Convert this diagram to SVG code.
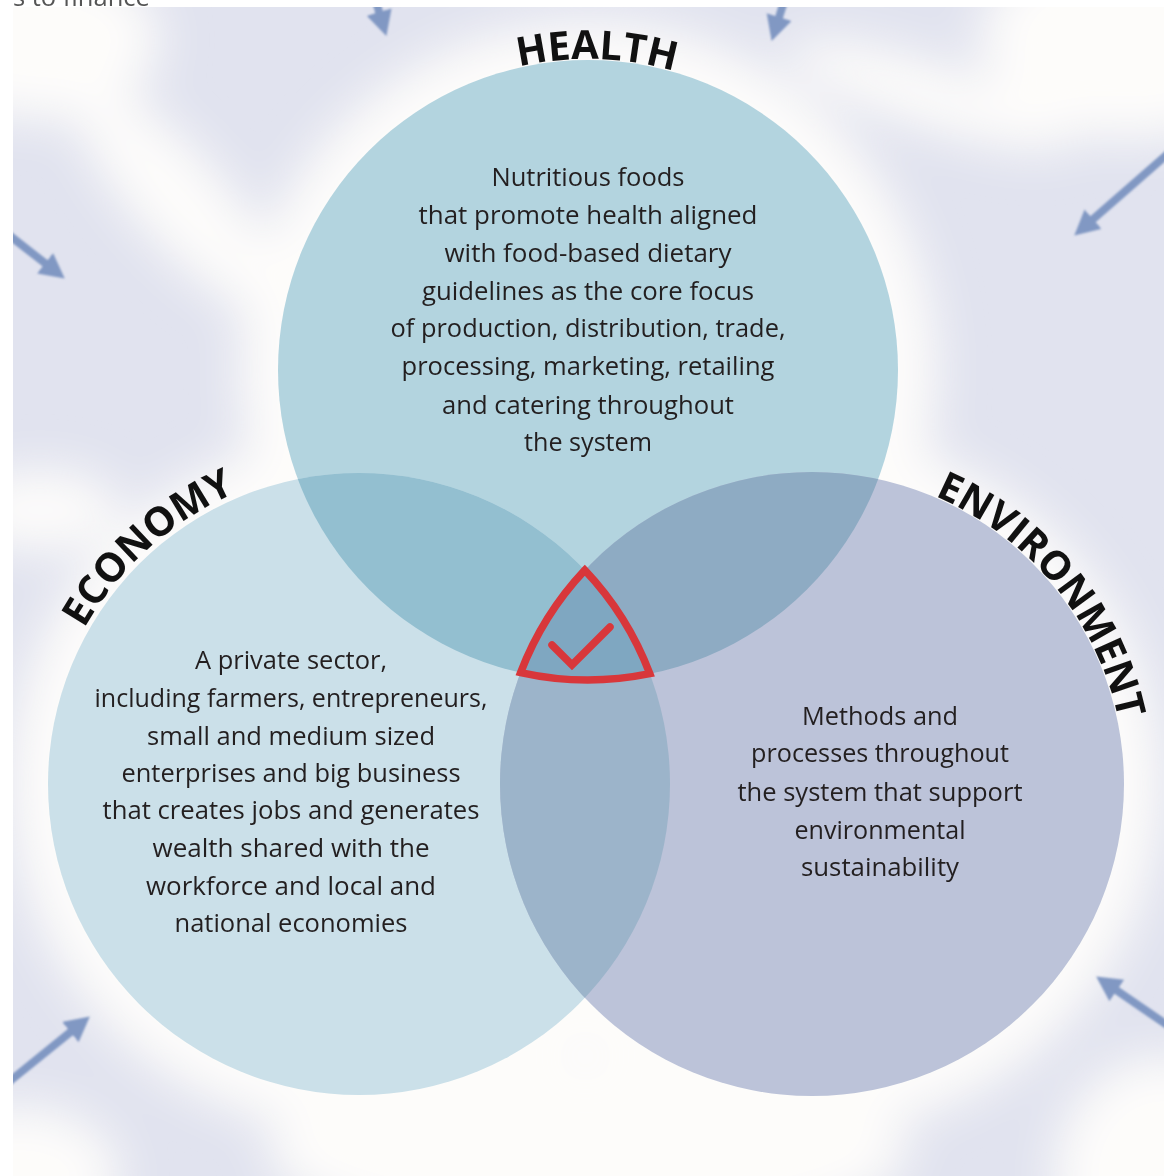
<svg xmlns="http://www.w3.org/2000/svg" width="1164" height="1176" viewBox="0 0 1164 1176">
  <style>
    .body { font-family: "Open Sans", "Noto Sans", "Liberation Sans", sans-serif; font-size: 25.5px; fill: #231f20; text-anchor: middle; }
    .label { font-family: "Open Sans", "Noto Sans", "Liberation Sans", sans-serif; font-weight: 700; font-size: 40px; fill: #111; }
    .arrow { fill: none; stroke: #8198c3; stroke-width: 8; marker-end: url(#head); }
    .core { fill: none; stroke: #d8373b; stroke-width: 7.5; stroke-linejoin: miter; stroke-linecap: round; }
  </style>
  <defs>
    <filter id="haze" x="-20%" y="-20%" width="140%" height="140%">
      <feGaussianBlur stdDeviation="24"/>
    </filter>
    <filter id="soft" x="-20%" y="-20%" width="140%" height="140%">
      <feGaussianBlur stdDeviation="0.8"/>
    </filter>
    <marker id="head" markerUnits="userSpaceOnUse" markerWidth="30" markerHeight="30" refX="4" refY="13" orient="auto">
      <path d="M0 0 L25 13 L0 26 Z" fill="#8198c3"/>
    </marker>
    <clipPath id="clipEconomy"><circle cx="359" cy="784" r="311"/></clipPath>
    <clipPath id="clipEnvironment"><circle cx="812" cy="784" r="312"/></clipPath>
    <clipPath id="clipPage"><rect x="13" y="7" width="1151" height="1169"/></clipPath>
    <!-- baselines for the curved headings -->
    <path id="arcHealth" d="M323.1 207 A311 311 0 0 1 861.6 222.1"/>
    <path id="arcEconomy" d="M52 860 A318 318 0 0 1 469 486"/>
    <path id="arcEnvironment" d="M760.9 475.2 A313 313 0 0 1 1105 894.1"/>
  </defs>

  <!-- page and soft halo backdrop -->
  <rect width="1164" height="1176" fill="#ffffff"/>
  <g clip-path="url(#clipPage)">
    <rect x="13" y="7" width="1151" height="1169" fill="#e1e3ef"/>
    <g filter="url(#haze)" fill="#fdfcfa">
      <circle cx="588" cy="370" r="348"/>
      <circle cx="359" cy="784" r="348"/>
      <circle cx="812" cy="784" r="348"/>
      <ellipse cx="588" cy="1150" rx="320" ry="90"/>
      <ellipse cx="40" cy="40" rx="120" ry="80"/>
      <ellipse cx="180" cy="200" rx="150" ry="45" transform="rotate(48 180 200)"/>
      <ellipse cx="1130" cy="40" rx="150" ry="100"/>
      <ellipse cx="930" cy="95" rx="150" ry="32" transform="rotate(18 930 95)"/>
      <ellipse cx="1164" cy="1176" rx="110" ry="120"/>
      <ellipse cx="20" cy="1176" rx="100" ry="70"/>
      <ellipse cx="40" cy="510" rx="80" ry="40"/>
    </g>
  </g>

  <!-- inward pointing arrows -->
  <g id="connectors" filter="url(#soft)">
    <path class="arrow" d="M374 -5 L380.3 15.9"/>
    <path class="arrow" d="M786 -5 L777.9 20.9"/>
    <path class="arrow" d="M5 232 L48.2 265.7"/>
    <path class="arrow" d="M1170 152 L1090.1 221.8"/>
    <path class="arrow" d="M5 1085 L73.5 1029.6"/>
    <path class="arrow" d="M1170 1027 L1113.5 988.3"/>
  </g>

  <!-- page margins -->
  <rect x="0" y="0" width="1164" height="7" fill="#ffffff"/>
  <rect x="0" y="0" width="13" height="1176" fill="#ffffff"/>
  <text x="13" y="6" class="body" style="text-anchor:start;fill:#555">s to finance</text>

  <!-- HEALTH -->
  <g id="health">
    <circle cx="588" cy="370" r="310" fill="#b3d4df"/>
    <text class="label"><textPath href="#arcHealth" startOffset="50%" text-anchor="middle">HEALTH</textPath></text>
  </g>

  <!-- ECONOMY -->
  <g id="economy">
    <circle cx="359" cy="784" r="311" fill="#cbe0e9"/>
    <text class="label"><textPath href="#arcEconomy" startOffset="50%" text-anchor="middle">ECONOMY</textPath></text>
  </g>

  <!-- ENVIRONMENT -->
  <g id="environment">
    <circle cx="812" cy="784" r="312" fill="#bcc3d9"/>
    <text class="label"><textPath href="#arcEnvironment" startOffset="50%" text-anchor="middle">ENVIRONMENT</textPath></text>
  </g>

  <!-- overlaps -->
  <g id="overlaps">
    <circle cx="588" cy="370" r="310" fill="#93bfd0" clip-path="url(#clipEconomy)"/>
    <circle cx="588" cy="370" r="310" fill="#8eabc3" clip-path="url(#clipEnvironment)"/>
    <circle cx="359" cy="784" r="311" fill="#9cb4ca" clip-path="url(#clipEnvironment)"/>
    <g clip-path="url(#clipEnvironment)">
      <circle cx="588" cy="370" r="310" fill="#7fa7c1" clip-path="url(#clipEconomy)"/>
    </g>
  </g>

  <!-- descriptions -->
  <g id="health-text">
    <text class="body" x="588" y="186" textLength="193" lengthAdjust="spacingAndGlyphs">Nutritious foods</text>
    <text class="body" x="588" y="224" textLength="339" lengthAdjust="spacingAndGlyphs">that promote health aligned</text>
    <text class="body" x="588" y="262" textLength="287" lengthAdjust="spacingAndGlyphs">with food-based dietary</text>
    <text class="body" x="588" y="300" textLength="332" lengthAdjust="spacingAndGlyphs">guidelines as the core focus</text>
    <text class="body" x="588" y="337" textLength="395" lengthAdjust="spacingAndGlyphs">of production, distribution, trade,</text>
    <text class="body" x="588" y="375" textLength="373" lengthAdjust="spacingAndGlyphs">processing, marketing, retailing</text>
    <text class="body" x="588" y="414" textLength="292" lengthAdjust="spacingAndGlyphs">and catering throughout</text>
    <text class="body" x="588" y="451" textLength="128" lengthAdjust="spacingAndGlyphs">the system</text>
  </g>
  <g id="economy-text">
    <text class="body" x="291" y="669" textLength="192" lengthAdjust="spacingAndGlyphs">A private sector,</text>
    <text class="body" x="291" y="707" textLength="393" lengthAdjust="spacingAndGlyphs">including farmers, entrepreneurs,</text>
    <text class="body" x="291" y="745" textLength="288" lengthAdjust="spacingAndGlyphs">small and medium sized</text>
    <text class="body" x="291" y="782" textLength="339" lengthAdjust="spacingAndGlyphs">enterprises and big business</text>
    <text class="body" x="291" y="819" textLength="377" lengthAdjust="spacingAndGlyphs">that creates jobs and generates</text>
    <text class="body" x="291" y="857" textLength="277" lengthAdjust="spacingAndGlyphs">wealth shared with the</text>
    <text class="body" x="291" y="895" textLength="290" lengthAdjust="spacingAndGlyphs">workforce and local and</text>
    <text class="body" x="291" y="932" textLength="233" lengthAdjust="spacingAndGlyphs">national economies</text>
  </g>
  <g id="environment-text">
    <text class="body" x="880" y="725" textLength="156" lengthAdjust="spacingAndGlyphs">Methods and</text>
    <text class="body" x="880" y="762" textLength="258" lengthAdjust="spacingAndGlyphs">processes throughout</text>
    <text class="body" x="880" y="801" textLength="285" lengthAdjust="spacingAndGlyphs">the system that support</text>
    <text class="body" x="880" y="839" textLength="171" lengthAdjust="spacingAndGlyphs">environmental</text>
    <text class="body" x="880" y="876" textLength="158" lengthAdjust="spacingAndGlyphs">sustainability</text>
  </g>

  <!-- shared core: all three goals met -->
  <g id="core">
    <path class="core" d="M584.8 570.1 A312 312 0 0 0 520.6 672.6 A310 310 0 0 0 649.8 673.7 A311 311 0 0 0 584.8 570.1 Z"/>
    <polyline class="core" stroke-width="8" points="552,645 572,665 610,627"/>
  </g>
</svg>
